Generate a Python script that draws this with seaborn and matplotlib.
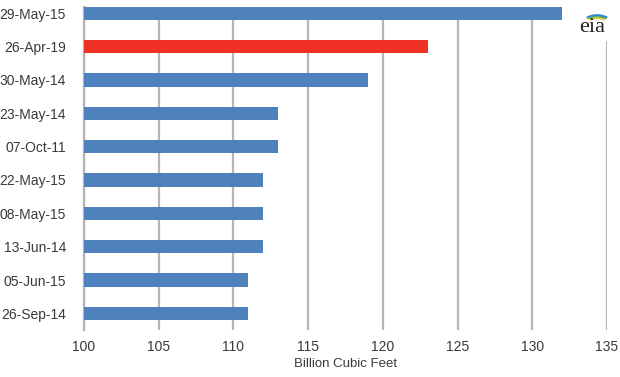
import matplotlib
matplotlib.use("Agg")
import matplotlib.pyplot as plt
from matplotlib.patches import Arc
import seaborn as sns
import pandas as pd

# weekly storage injections, largest on record
weeks = ["29-May-15", "26-Apr-19", "30-May-14", "23-May-14", "07-Oct-11",
         "22-May-15", "08-May-15", "13-Jun-14", "05-Jun-15", "26-Sep-14"]
injection = [132, 123, 119, 113, 113, 112, 112, 112, 111, 111]
highlight = "26-Apr-19"

blue = "#4F81BD"
red = "#EE3124"

sns.set_theme(style="white")
plt.rcParams['font.family'] = ['Liberation Sans Narrow', 'Liberation Sans', 'DejaVu Sans']

df = pd.DataFrame({"week": weeks, "bcf": injection})
palette = {w: (red if w == highlight else blue) for w in weeks}

fig = plt.figure(figsize=(6.2, 3.77), dpi=100)
ax = fig.add_axes([84 / 620, 47 / 377, 523 / 620, 323 / 377])

sns.barplot(data=df, x="bcf", y="week", hue="week", palette=palette,
            order=weeks, orient="h", width=0.4, legend=False, ax=ax,
            saturation=1, edgecolor="none", zorder=3)

ax.set_xlim(100, 135)
ax.set_ylim(9.5, -0.19)
ax.set_xticks(range(100, 136, 5))
ax.grid(axis="x", color="#B5B5B5", linewidth=1.6, zorder=0)
ax.set_axisbelow(True)
for s in ["top", "right", "bottom"]:
    ax.spines[s].set_visible(False)
ax.spines["left"].set_color("#B5B5B5")
ax.spines["left"].set_linewidth(1.6)

ax.tick_params(axis="y", length=0, pad=13, labelsize=10, labelcolor="#3A3A3A")
ax.tick_params(axis="x", length=0, pad=7, labelsize=10, labelcolor="#3A3A3A")
ax.set_ylabel("")
ax.set_xlabel("Billion Cubic Feet", fontsize=9.5, color="#3A3A3A", labelpad=3)

# eia logo
fig.patches.append(plt.Rectangle((572 / 620, 1 - 40 / 377), 46 / 620, 40 / 377,
                                 transform=fig.transFigure, color="white", zorder=5))
fig.text(592 / 620, 1 - 27 / 377, "eia", ha="center", va="center",
         fontsize=16, family="Liberation Serif", color="#222222", zorder=6)
for r, c in [(11, "#F2C531"), (13, "#8DC63F"), (15, "#2E8BC9")]:
    arc = Arc((597, 377 - 25), 2 * r, 1.3 * r, theta1=35, theta2=145,
              transform=None, color=c, linewidth=1.6, zorder=6)
    fig.patches.append(arc)

fig.savefig("out.png", dpi=100)
